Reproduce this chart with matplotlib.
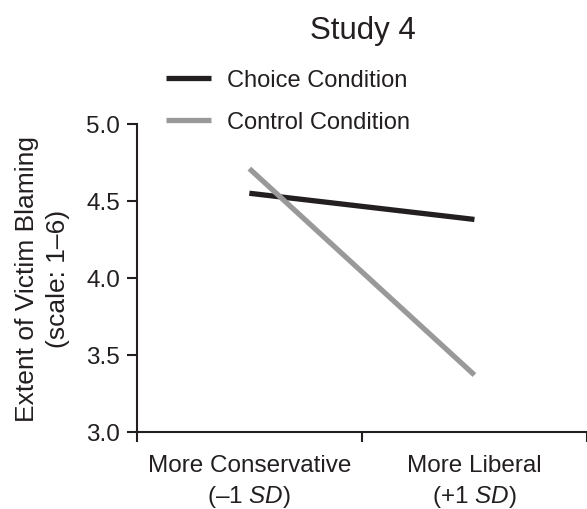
import matplotlib
matplotlib.use("Agg")
from matplotlib import pyplot as plt

# data
groups = ["More Conservative\n(\u20131 $\\mathit{SD}$)", "More Liberal\n(+1 $\\mathit{SD}$)"]
x_pos = [0.5, 1.5]
choice = [4.55, 4.38]
control = [4.71, 3.37]
y_ticks = [3.0, 3.5, 4.0, 4.5, 5.0]

plt.rcParams['font.family'] = ['Liberation Sans', 'DejaVu Sans']
plt.rcParams['mathtext.fontset'] = 'custom'
plt.rcParams['mathtext.rm'] = 'Liberation Sans'
plt.rcParams['mathtext.it'] = 'Liberation Sans:italic'

fig = plt.figure(figsize=(5.87, 5.10), dpi=100)
ax = fig.add_axes([0.233, 0.151, 0.767, 0.604])

ax.plot(x_pos, choice, color="#231f20", linewidth=3.8, solid_capstyle='butt', label="Choice Condition")
ax.plot(x_pos, control, color="#999999", linewidth=3.8, solid_capstyle='butt', label="Control Condition")

ax.set_xlim(0, 2)
ax.set_ylim(3.0, 5.0)
ax.set_yticks(y_ticks)
ax.set_yticklabels(["{:.1f}".format(v) for v in y_ticks])
ax.set_xticks([0, 1, 2])
ax.set_xticklabels([])
ax.set_xticks(x_pos, minor=True)
ax.set_xticklabels(groups, minor=True)

for s in ['top', 'right']:
    ax.spines[s].set_visible(False)
for s in ['left', 'bottom']:
    ax.spines[s].set_linewidth(1.5)
    ax.spines[s].set_color("#231f20")
    ax.spines[s].set_clip_on(False)

ax.tick_params(axis='both', which='major', direction='out', length=7, width=1.5, color="#231f20",
               labelsize=17.5, labelcolor="#231f20", pad=5)
ax.tick_params(axis='x', which='minor', length=0, labelsize=17.5, labelcolor="#231f20", pad=16)
for t in ax.get_xticklabels(minor=True):
    t.set_linespacing(1.35)

ylab = ax.set_ylabel("Extent of Victim Blaming\n(scale: 1\u20136)", fontsize=19, color="#231f20", labelpad=12)
ylab.set_linespacing(1.35)

fig.text(0.618, 0.94, "Study 4", ha='center', va='center', fontsize=22.5, color="#231f20")

ax.legend(loc='upper left', bbox_to_anchor=(0.246, 0.904), bbox_transform=fig.transFigure,
          frameon=False, fontsize=17, handlelength=1.9, handletextpad=0.7, labelspacing=0.85,
          labelcolor="#231f20")

fig.savefig("out.png", dpi=100)
